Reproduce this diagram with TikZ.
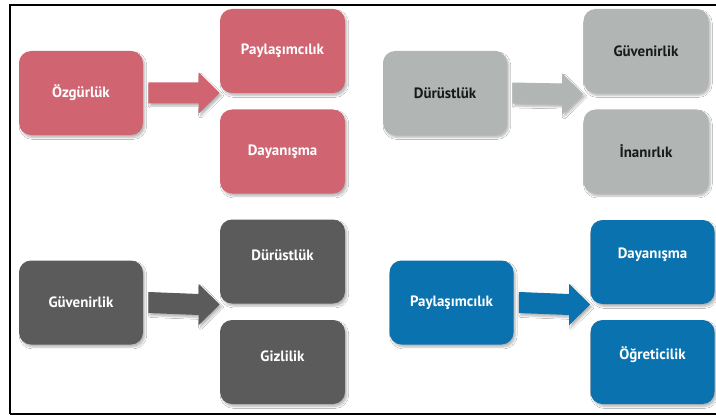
\documentclass[tikz,border=0pt]{standalone}
\usepackage{fontspec}
\setmainfont{PT Sans}
\usetikzlibrary{calc,shadows.blur}

\definecolor{rosec}{HTML}{D06470}
\definecolor{lgrayc}{HTML}{B1B5B4}
\definecolor{dgrayc}{HTML}{5B5B5B}
\definecolor{bluec}{HTML}{0A72AE}

\tikzset{
  softshadow/.style={blur shadow={shadow xshift=1.4pt, shadow yshift=-1.9pt,
    shadow blur radius=1.4pt, shadow opacity=28, shadow blur steps=6}},
  box/.style={rounded corners=9pt, minimum width=93pt, minimum height=63pt,
    inner sep=0pt, font=\bfseries\fontsize{11.2}{13}\selectfont, softshadow},
  rosebox/.style={box, fill=rosec, text=white},
  lgraybox/.style={box, fill=lgrayc, text=black!90},
  dgraybox/.style={box, fill=dgrayc, text=white},
  bluebox/.style={box, fill=bluec, text=white},
  wide/.style={minimum width=93.75pt},
  lbl/.style={inner sep=0pt, font=\bfseries\fontsize{11.2}{13}\selectfont}
}

% block arrow from a start point to a tip point (pixel-sized offsets)
\newcommand{\blockarrow}[3]{%
  \fill[#3, softshadow] ($(#1)+(0,-10.5)$) -- ($(#2)+(-21,-10.5)$) -- ($(#2)+(-21,-20.5)$)
    -- (#2) -- ($(#2)+(-21,20.5)$) -- ($(#2)+(-21,10.5)$) -- ($(#1)+(0,10.5)$) -- cycle;}

\begin{document}
\begin{tikzpicture}[x=0.75pt, y=-0.75pt]
  \useasboundingbox (0,0) rectangle (716,417);
  \fill[white] (0,0) rectangle (716,417);

  % frame
  \draw[line width=1.6pt] (10,414) -- (10,5) -- (716,5);
  \draw[line width=1.6pt] (10,414) -- (716,414);

  % group 1
  \node[rosebox] (oz) at (81,93) {Özgürlük};
  \node[rosebox, wide] (pay1) at (282.5,51) {Paylaşımcılık};
  \node[rosebox, wide] (day1) at (282.5,151.5) {Dayanışma};
  \coordinate (s1) at ([xshift=3.75pt]oz.east);
  \coordinate (t1) at (pay1.west |- oz.east);
  \blockarrow{s1}{t1}{rosec}

  % group 2
  \node[lgraybox] (dur1) at (445,93) {Dürüstlük};
  \node[lgraybox, wide] (guv1) at (646,51) {Güvenirlik};
  \node[lgraybox, wide] (ina) at (646,151.5) {İnanırlık};
  \coordinate (s2) at ([xshift=3.75pt]dur1.east);
  \coordinate (t2) at ([yshift=-0.75pt]guv1.west |- dur1.east);
  \blockarrow{s2}{t2}{lgrayc}

  % group 3
  \node[dgraybox] (guv2) at (81,302.5) {Güvenirlik};
  \node[dgraybox, wide] (dur2) at (282.5,261.5) {};
  \node[lbl, text=white] (dur2t) at ([yshift=4.5pt]dur2.center) {Dürüstlük};
  \node[dgraybox, wide] (giz) at (282.5,362) {};
  \node[lbl, text=white] (gizt) at ([yshift=4.5pt]giz.center) {Gizlilik};
  \coordinate (s3) at ([xshift=3.75pt]guv2.east);
  \coordinate (t3) at ([yshift=-1.5pt]dur2.west |- guv2.east);
  \blockarrow{s3}{t3}{dgrayc}

  % group 4
  \node[bluebox] (pay2) at (451.5,302.5) {Paylaşımcılık};
  \node[bluebox] (day2) at (652.5,262) {};
  \node[lbl, text=white] (day2t) at ([yshift=5.25pt]day2.center) {Dayanışma};
  \node[bluebox] (ogr) at (652.5,362) {};
  \node[lbl, text=white] (ogrt) at ([yshift=5.25pt]ogr.center) {Öğreticilik};
  \coordinate (s4) at ([xshift=3.75pt]pay2.east);
  \coordinate (t4) at ([yshift=-1.5pt]day2.west |- pay2.east);
  \blockarrow{s4}{t4}{bluec}
\end{tikzpicture}
\end{document}
